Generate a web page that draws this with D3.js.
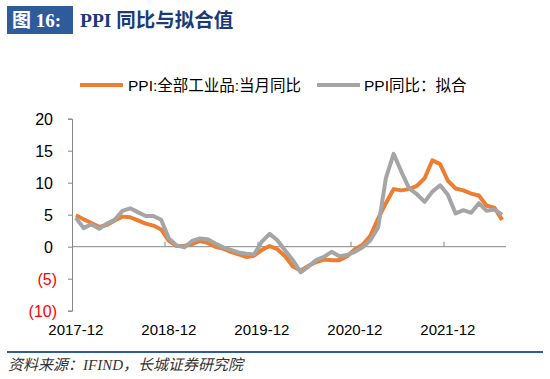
<!DOCTYPE html>
<html><head><meta charset="utf-8">
<script src="https://cdn.jsdelivr.net/npm/d3@7"></script>
<style>
body{margin:0;background:#fff;}
svg{display:block;}
</style></head>
<body><svg id="c" width="550" height="379"></svg>
<script>
const months = [];
(function(){ let y=2017,m=12; for(let i=0;i<56;i++){ months.push(y+"-"+String(m).padStart(2,"0")); m++; if(m>12){m=1;y++;} } })();
const ppiActual = [4.9,4.3,3.7,3.1,3.4,4.1,4.7,4.6,4.1,3.6,3.3,2.7,0.9,0.1,0.1,0.4,0.9,0.6,0.0,-0.3,-0.8,-1.2,-1.6,-1.4,-0.5,0.1,-0.4,-1.5,-3.1,-3.7,-3.0,-2.4,-2.0,-2.1,-2.1,-1.5,-0.4,0.3,1.7,4.4,6.8,9.0,8.8,9.0,9.5,10.7,13.5,12.9,10.3,9.1,8.8,8.3,8.0,6.4,6.1,4.2];
const ppiFit = [4.5,2.9,3.5,2.8,3.6,4.2,5.6,6.0,5.4,4.8,4.8,4.2,1.3,0.2,-0.1,0.9,1.3,1.15,0.5,-0.1,-0.5,-0.9,-1.1,-1.2,0.8,2.0,1.0,-0.6,-2.1,-4.0,-3.1,-2.1,-1.6,-0.8,-1.5,-1.3,-0.8,-0.1,1.0,3.0,10.7,14.5,11.7,9.1,8.2,7.0,8.6,9.6,8.1,5.2,5.7,5.3,6.8,5.6,5.8,5.0];
const yTicks = [20,15,10,5,0,-5,-10];
const xTickLabels = ["2017-12","2018-12","2019-12","2020-12","2021-12"];
const seriesNames = ["PPI:全部工业品:当月同比","PPI同比：拟合"];
const colors = ["#ED7D31","#A5A5A5"];

const svg = d3.select("#c");
const font = "Arial, 'Liberation Sans', 'Noto Sans CJK SC', sans-serif";
const serif = "'Times New Roman','Liberation Serif','Noto Sans CJK SC',serif";

// Title
svg.append("rect").attr("x",7).attr("y",6).attr("width",66).attr("height",28).attr("fill","#2E5C9B");
svg.append("text").attr("x",12).attr("y",27).attr("fill","#fff").attr("font-size",19).attr("font-weight","bold")
  .attr("font-family",serif).text("图 16:");
svg.append("text").attr("x",80).attr("y",27).attr("fill","#1B3A78").attr("font-size",19.5).attr("font-weight","bold")
  .attr("font-family",serif).text("PPI 同比与拟合值");

// Scales
const x = d3.scaleBand().domain(months).range([72,506]).padding(0);
const y = d3.scaleLinear().domain([-10,20]).range([310.7,118.7]);
const cx = d => x(d) + x.bandwidth()/2;

// Y axis
const yAxis = svg.append("g").attr("transform","translate(72,0)")
  .call(d3.axisLeft(y).tickValues(yTicks).tickSize(4).tickPadding(0).tickFormat(d => d<0 ? "("+Math.abs(d)+")" : d));
yAxis.select(".domain").attr("stroke","#868686").attr("stroke-width",1);
yAxis.selectAll(".tick line").attr("stroke","#868686");
yAxis.selectAll(".tick text").attr("font-family",font).attr("font-size",16)
  .attr("fill", d => d<0 ? "#FF0000" : "#000").attr("x", d => d<0 ? -15 : -19).attr("dy","0.34em");

// X axis at y=0
const y0 = y(0);
svg.append("line").attr("x1",72).attr("x2",506).attr("y1",y0).attr("y2",y0).attr("stroke","#868686").attr("stroke-width",1);
months.forEach((m,i) => {
  if (i>0 && i%12===0) {
    svg.append("line").attr("x1",x(m)).attr("x2",x(m)).attr("y1",y0).attr("y2",y0-5).attr("stroke","#868686");
  }
});
xTickLabels.forEach(l => {
  svg.append("text").attr("x",cx(l)).attr("y",335).attr("text-anchor","middle").attr("font-family",font)
    .attr("font-size",15).attr("fill","#000").text(l);
});

// Lines
const line = d3.line().x((d,i)=>cx(months[i])).y(d=>y(d));
[ppiActual, ppiFit].forEach((s,k) => {
  svg.append("path").datum(s).attr("d",line).attr("fill","none").attr("stroke",colors[k])
    .attr("stroke-width",4).attr("stroke-linejoin","round");
});

// Legend
const leg = [{x1:80,x2:123,tx:128},{x1:317,x2:360,tx:364}];
leg.forEach((l,k) => {
  svg.append("line").attr("x1",l.x1).attr("x2",l.x2).attr("y1",85).attr("y2",85).attr("stroke",colors[k]).attr("stroke-width",4);
  svg.append("text").attr("x",l.tx).attr("y",91).attr("font-family",font).attr("font-size",15.5).attr("fill","#000").text(seriesNames[k]);
});

// Footer
svg.append("line").attr("x1",7).attr("x2",543).attr("y1",352).attr("y2",352).attr("stroke","#2E5C9B").attr("stroke-width",2);
svg.append("text").attr("x",8).attr("y",370).attr("font-family",serif)
  .attr("font-style","italic").attr("font-size",15).attr("fill","#333").text("资料来源：IFIND，长城证券研究院");
</script></body></html>
